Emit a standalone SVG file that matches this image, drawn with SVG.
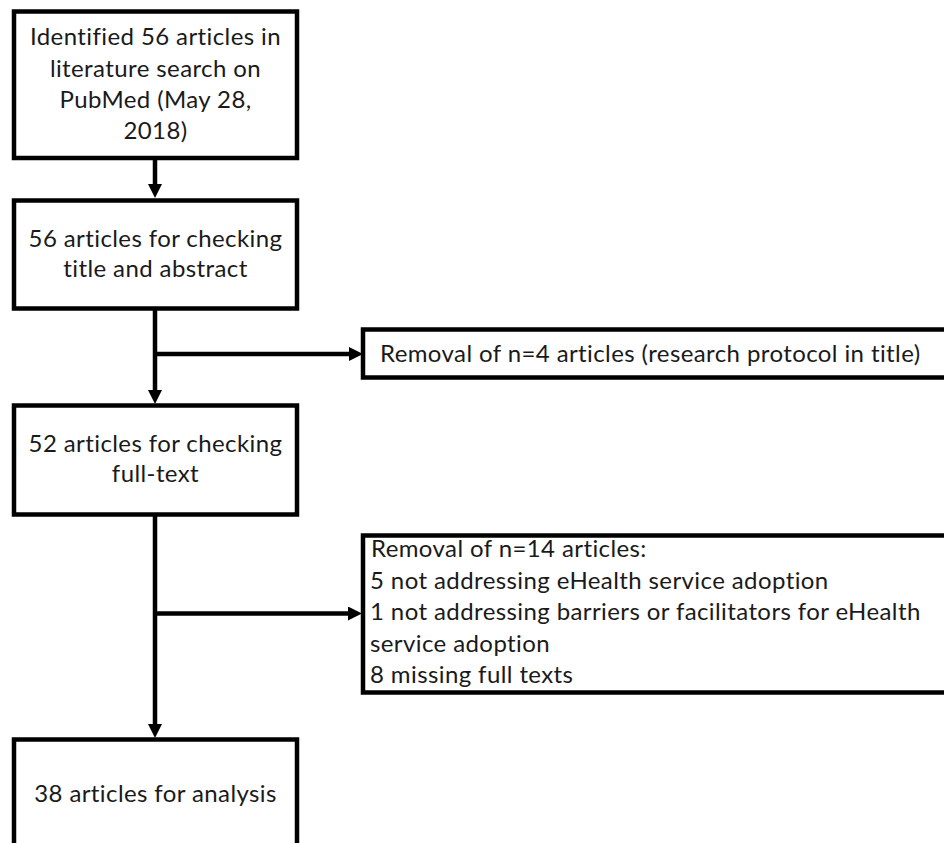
<svg xmlns="http://www.w3.org/2000/svg" width="944" height="843" viewBox="0 0 944 843">
<style>
.box{fill:#fff;stroke:#000;stroke-width:4.5}
.t{font-family:Lato,"Liberation Sans",sans-serif;font-size:24px;letter-spacing:0.4px;fill:#1a1a1a}
.c{text-anchor:middle}
.con{stroke:#000;stroke-width:4.5;fill:none}
</style>
<defs>
<marker id="ah" markerUnits="userSpaceOnUse" markerWidth="14" markerHeight="14" refX="5" refY="7" orient="auto">
<path d="M0,0 L14,7 L0,14 z" fill="#000"/>
</marker>
</defs>
<rect width="944" height="843" fill="#fff"/>
<g id="connectors">
<line class="con" x1="155" y1="158" x2="155" y2="189" marker-end="url(#ah)"/>
<line class="con" x1="155" y1="308" x2="155" y2="395" marker-end="url(#ah)"/>
<line class="con" x1="155" y1="354" x2="354" y2="354" marker-end="url(#ah)"/>
<line class="con" x1="155" y1="514" x2="155" y2="729" marker-end="url(#ah)"/>
<line class="con" x1="155" y1="613.5" x2="353" y2="613.5" marker-end="url(#ah)"/>
</g>
<g id="n1">
<rect class="box" x="14" y="11.5" width="283" height="146.5"/>
<text class="t c" x="155.5" y="45">Identified 56 articles in</text>
<text class="t c" x="155.5" y="77">literature search on</text>
<text class="t c" x="155.5" y="108">PubMed (May 28,</text>
<text class="t c" x="155.5" y="139">2018)</text>
</g>
<g id="n2">
<rect class="box" x="14" y="200.5" width="283" height="108"/>
<text class="t c" x="155.5" y="247">56 articles for checking</text>
<text class="t c" x="155.5" y="277">title and abstract</text>
</g>
<g id="n3">
<rect class="box" x="363" y="329.5" width="640" height="48"/>
<text class="t" x="380" y="362">Removal of n=4 articles (research protocol in title)</text>
</g>
<g id="n4">
<rect class="box" x="14" y="405.5" width="283" height="109"/>
<text class="t c" x="155.5" y="452">52 articles for checking</text>
<text class="t c" x="155.5" y="482">full-text</text>
</g>
<g id="n5">
<rect class="box" x="363" y="535.5" width="640" height="157"/>
<text class="t" x="371" y="557">Removal of n=14 articles:</text>
<text class="t" x="370" y="588.5">5 not addressing eHealth service adoption</text>
<text class="t" x="370" y="620">1 not addressing barriers or facilitators for eHealth</text>
<text class="t" x="370" y="651.5">service adoption</text>
<text class="t" x="370" y="683">8 missing full texts</text>
</g>
<g id="n6">
<rect class="box" x="14" y="739.5" width="283" height="200"/>
<text class="t c" x="155.5" y="802">38 articles for analysis</text>
</g>
</svg>
